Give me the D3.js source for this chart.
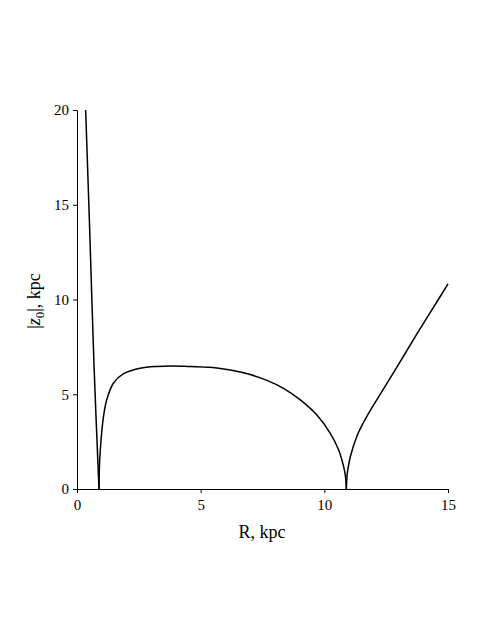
<!DOCTYPE html>
<html lang="en">
<head>
  <meta charset="utf-8">
  <title>|z0| vs R</title>
  <script src="https://cdn.jsdelivr.net/npm/d3@7"></script>
  <style>
    * { margin: 0; padding: 0; }
    body { background: #fff; }
    svg { display: block; font-family: "Liberation Serif", "DejaVu Serif", serif; }
  </style>
</head>
<body>
  <svg id="chart" width="491" height="635"></svg>
  <script>
    // curve, split at the two cusps
    const leftR = [0.35, 0.52, 0.69, 0.89];
    const leftZ = [20, 13.4, 6.45, 0];

    const archR = [0.89, 0.91, 0.95, 1.0, 1.07, 1.2, 1.47, 1.87, 2.55, 3.23, 3.9, 4.57, 5.38, 6.0, 6.5, 7.0, 7.68, 8.35, 9.03, 9.7, 10.24, 10.58, 10.78, 10.85, 10.89];
    const archZ = [0, 1.3, 2.2, 3.0, 3.82, 4.7, 5.58, 6.07, 6.37, 6.47, 6.49, 6.46, 6.42, 6.32, 6.2, 6.04, 5.73, 5.31, 4.7, 3.9, 2.94, 2.06, 1.18, 0.71, 0];

    const rightR = [10.89, 10.92, 10.95, 11.05, 11.32, 11.6, 11.86, 12.4, 13.08, 13.75, 14.43, 15.0];
    const rightZ = [0, 0.73, 1.03, 1.7, 2.8, 3.55, 4.15, 5.3, 6.75, 8.2, 9.62, 10.82];

    const xTicks = [0, 5, 10, 15];
    const yTicks = [0, 5, 10, 15, 20];

    const svg = d3.select("#chart");
    const x = d3.scaleLinear().domain([0, 15]).range([77, 448]);
    const y = d3.scaleLinear().domain([0, 20]).range([489, 110]);

    // x axis
    const xAxis = svg.append("g").attr("transform", "translate(0,489)");
    xAxis.call(d3.axisBottom(x).tickValues(d3.range(0, 16)).tickSize(4).tickFormat(""));
    xAxis.call(d3.axisBottom(x).tickValues(xTicks).tickSize(4).tickPadding(6).tickFormat(d3.format("d")));
    // y axis
    const yAxis = svg.append("g").attr("transform", "translate(77,0)");
    yAxis.call(d3.axisLeft(y).tickValues(d3.range(0, 21)).tickSize(4).tickFormat(""));
    yAxis.call(d3.axisLeft(y).tickValues(yTicks).tickSize(4).tickPadding(4).tickFormat(d3.format("d")));

    svg.selectAll(".domain").attr("stroke", "#000").attr("stroke-width", 1);
    svg.selectAll(".tick line").attr("stroke", "#000");
    svg.selectAll(".tick text").attr("font-size", 15).attr("fill", "#000")
      .attr("font-family", "Liberation Serif, serif");

    // axis labels
    svg.append("text")
      .attr("x", 262).attr("y", 538)
      .attr("text-anchor", "middle")
      .attr("font-size", 18)
      .text("R, kpc");

    const yl = svg.append("text")
      .attr("transform", "translate(40,301) rotate(-90)")
      .attr("text-anchor", "middle")
      .attr("font-size", 18);
    yl.append("tspan").text("|");
    yl.append("tspan").attr("font-style", "italic").text("z");
    yl.append("tspan").attr("font-size", 13).attr("dy", 4).text("0");
    yl.append("tspan").attr("dy", -4).text("|, kpc");

    // curve
    const line = d3.line()
      .x((d) => x(d[0]))
      .y((d) => y(d[1]))
      .curve(d3.curveCatmullRom.alpha(0.5));

    const segments = [
      d3.zip(leftR, leftZ),
      d3.zip(archR, archZ),
      d3.zip(rightR, rightZ),
    ];
    svg.append("g").selectAll("path")
      .data(segments)
      .join("path")
      .attr("d", line)
      .attr("fill", "none")
      .attr("stroke", "#000")
      .attr("stroke-width", 1.5);
  </script>
</body>
</html>
